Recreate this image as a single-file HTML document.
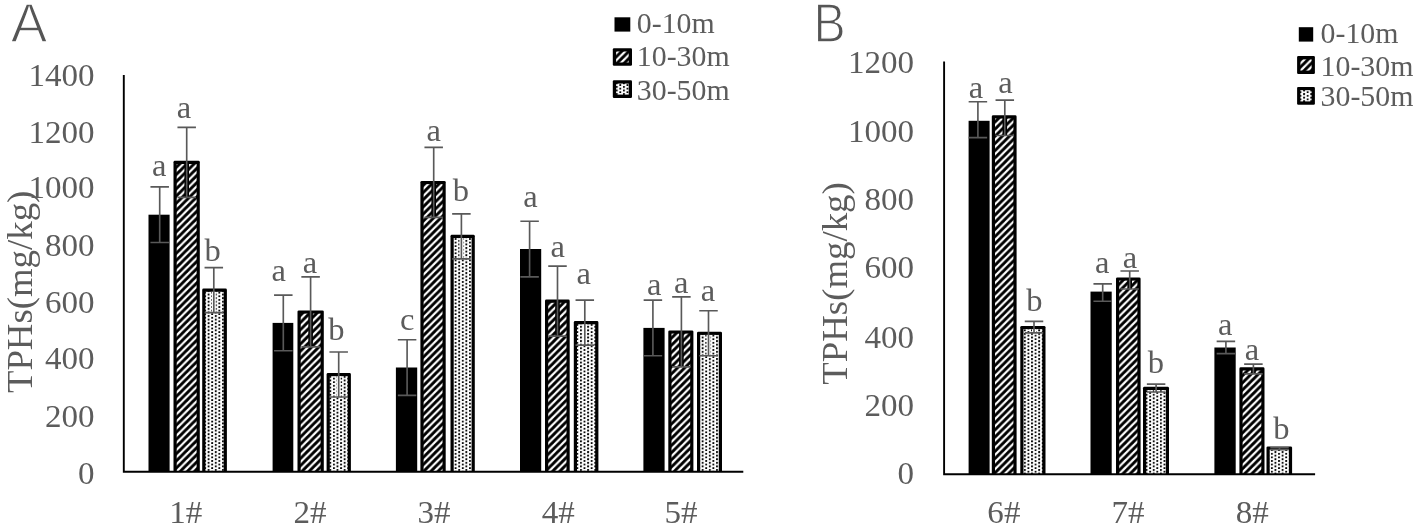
<!DOCTYPE html>
<html lang="en"><head><meta charset="utf-8"><title>TPHs</title>
<style>
html,body{margin:0;padding:0;background:#fff}
body{width:1418px;height:527px;overflow:hidden}
svg{display:block;filter:blur(0.5px)}
.s{font-family:"Liberation Serif","DejaVu Serif",serif}
.n{font-family:"Liberation Sans","DejaVu Sans",sans-serif}
</style></head><body>
<svg width="1418" height="527" viewBox="0 0 1418 527">
<defs>
<pattern id="hat" width="7.160" height="7.160" patternUnits="userSpaceOnUse">
<rect width="7.160" height="7.160" fill="#fff"/>
<path d="M-3.580 3.580L3.580 -3.580M0 7.160L7.160 0M3.580 10.740L10.740 3.580" stroke="#000" stroke-width="2.936"/>
</pattern>
<pattern id="dot" width="7.160" height="3.580" patternUnits="userSpaceOnUse">
<rect width="7.160" height="3.580" fill="#fff"/>
<rect x="0" y="0" width="1.92" height="1.92" rx="0.5" fill="#000"/>
<rect x="3.58" y="1.79" width="1.92" height="1.92" rx="0.5" fill="#000"/>
</pattern>
</defs>
<rect width="1418" height="527" fill="#fff"/>
<rect x="148.50" y="214.70" width="21.10" height="257.10" fill="#000"/>
<path d="M173.50 471.80V162.20Q173.50 160.80 174.90 160.80H198.40Q199.80 160.80 199.80 162.20V471.80Z" fill="#000"/>
<rect x="176.70" y="164.00" width="19.90" height="307.80" fill="url(#hat)"/>
<path d="M202.20 471.80V290.00Q202.20 288.60 203.60 288.60H225.50Q226.90 288.60 226.90 290.00V471.80Z" fill="#000"/>
<rect x="205.40" y="291.80" width="18.30" height="180.00" fill="url(#dot)"/>
<rect x="272.60" y="322.90" width="20.70" height="148.90" fill="#000"/>
<path d="M297.50 471.80V311.80Q297.50 310.40 298.90 310.40H322.40Q323.80 310.40 323.80 311.80V471.80Z" fill="#000"/>
<rect x="300.70" y="313.60" width="19.90" height="158.20" fill="url(#hat)"/>
<path d="M326.60 471.80V374.40Q326.60 373.00 328.00 373.00H349.50Q350.90 373.00 350.90 374.40V471.80Z" fill="#000"/>
<rect x="329.80" y="376.20" width="17.90" height="95.60" fill="url(#dot)"/>
<rect x="395.90" y="367.50" width="21.30" height="104.30" fill="#000"/>
<path d="M420.40 471.80V182.30Q420.40 180.90 421.80 180.90H444.30Q445.70 180.90 445.70 182.30V471.80Z" fill="#000"/>
<rect x="423.60" y="184.10" width="18.90" height="287.70" fill="url(#hat)"/>
<path d="M450.50 471.80V236.20Q450.50 234.80 451.90 234.80H473.40Q474.80 234.80 474.80 236.20V471.80Z" fill="#000"/>
<rect x="453.70" y="238.00" width="17.90" height="233.80" fill="url(#dot)"/>
<rect x="520.00" y="249.00" width="21.20" height="222.80" fill="#000"/>
<path d="M545.00 471.80V301.00Q545.00 299.60 546.40 299.60H568.30Q569.70 299.60 569.70 301.00V471.80Z" fill="#000"/>
<rect x="548.20" y="302.80" width="18.30" height="169.00" fill="url(#hat)"/>
<path d="M573.80 471.80V322.50Q573.80 321.10 575.20 321.10H597.00Q598.40 321.10 598.40 322.50V471.80Z" fill="#000"/>
<rect x="577.00" y="324.30" width="18.20" height="147.50" fill="url(#dot)"/>
<rect x="643.40" y="327.90" width="21.20" height="143.90" fill="#000"/>
<path d="M668.30 471.80V331.80Q668.30 330.40 669.70 330.40H692.00Q693.40 330.40 693.40 331.80V471.80Z" fill="#000"/>
<rect x="671.50" y="333.60" width="18.70" height="138.20" fill="url(#hat)"/>
<path d="M697.00 471.80V333.10Q697.00 331.70 698.40 331.70H720.60Q722.00 331.70 722.00 333.10V471.80Z" fill="#000"/>
<rect x="700.20" y="334.90" width="18.60" height="136.90" fill="url(#dot)"/>
<path d="M123.8 75V472.70M122.9 471.8H743.3" stroke="#000" stroke-width="1.9" fill="none"/>
<path d="M159.70 186.90V242.50M150.45 186.90H168.95M150.45 242.50H168.95" stroke="#595959" stroke-width="1.65" fill="none"/>
<path d="M186.70 162.30V197.30" stroke="#000" stroke-width="4.6" fill="none"/>
<path d="M186.70 127.30V197.30M177.45 127.30H195.95M177.45 197.30H195.95" stroke="#595959" stroke-width="1.65" fill="none"/>
<path d="M213.80 291.80V312.60" stroke="#fff" stroke-width="4.0" fill="none"/>
<path d="M213.80 267.60V312.60M204.55 267.60H223.05M204.55 312.60H223.05" stroke="#595959" stroke-width="1.65" fill="none"/>
<path d="M283.30 295.10V350.70M274.05 295.10H292.55M274.05 350.70H292.55" stroke="#595959" stroke-width="1.65" fill="none"/>
<path d="M310.60 311.90V346.90" stroke="#000" stroke-width="4.6" fill="none"/>
<path d="M310.60 276.90V346.90M301.35 276.90H319.85M301.35 346.90H319.85" stroke="#595959" stroke-width="1.65" fill="none"/>
<path d="M338.70 376.20V397.00" stroke="#fff" stroke-width="4.0" fill="none"/>
<path d="M338.70 352.00V397.00M329.45 352.00H347.95M329.45 397.00H347.95" stroke="#595959" stroke-width="1.65" fill="none"/>
<path d="M407.10 339.70V395.30M397.85 339.70H416.35M397.85 395.30H416.35" stroke="#595959" stroke-width="1.65" fill="none"/>
<path d="M433.70 182.40V217.40" stroke="#000" stroke-width="4.6" fill="none"/>
<path d="M433.70 147.40V217.40M424.45 147.40H442.95M424.45 217.40H442.95" stroke="#595959" stroke-width="1.65" fill="none"/>
<path d="M461.40 238.00V258.80" stroke="#fff" stroke-width="4.0" fill="none"/>
<path d="M461.40 213.80V258.80M452.15 213.80H470.65M452.15 258.80H470.65" stroke="#595959" stroke-width="1.65" fill="none"/>
<path d="M529.60 221.20V276.80M520.35 221.20H538.85M520.35 276.80H538.85" stroke="#595959" stroke-width="1.65" fill="none"/>
<path d="M557.50 301.10V336.10" stroke="#000" stroke-width="4.6" fill="none"/>
<path d="M557.50 266.10V336.10M548.25 266.10H566.75M548.25 336.10H566.75" stroke="#595959" stroke-width="1.65" fill="none"/>
<path d="M584.80 324.30V345.10" stroke="#fff" stroke-width="4.0" fill="none"/>
<path d="M584.80 300.10V345.10M575.55 300.10H594.05M575.55 345.10H594.05" stroke="#595959" stroke-width="1.65" fill="none"/>
<path d="M652.90 300.10V355.70M643.65 300.10H662.15M643.65 355.70H662.15" stroke="#595959" stroke-width="1.65" fill="none"/>
<path d="M681.40 331.90V366.90" stroke="#000" stroke-width="4.6" fill="none"/>
<path d="M681.40 296.90V366.90M672.15 296.90H690.65M672.15 366.90H690.65" stroke="#595959" stroke-width="1.65" fill="none"/>
<path d="M708.50 334.90V355.70" stroke="#fff" stroke-width="4.0" fill="none"/>
<path d="M708.50 310.70V355.70M699.25 310.70H717.75M699.25 355.70H717.75" stroke="#595959" stroke-width="1.65" fill="none"/>
<text class="s" transform="translate(94.50 85.50) scale(1.05 1)" font-size="31.5" text-anchor="end" fill="#5c5c5c">1400</text>
<text class="s" transform="translate(94.50 142.90) scale(1.05 1)" font-size="31.5" text-anchor="end" fill="#5c5c5c">1200</text>
<text class="s" transform="translate(94.50 198.40) scale(1.05 1)" font-size="31.5" text-anchor="end" fill="#5c5c5c">1000</text>
<text class="s" transform="translate(94.50 255.90) scale(1.05 1)" font-size="31.5" text-anchor="end" fill="#5c5c5c">800</text>
<text class="s" transform="translate(94.50 313.30) scale(1.05 1)" font-size="31.5" text-anchor="end" fill="#5c5c5c">600</text>
<text class="s" transform="translate(94.50 368.90) scale(1.05 1)" font-size="31.5" text-anchor="end" fill="#5c5c5c">400</text>
<text class="s" transform="translate(94.50 426.60) scale(1.05 1)" font-size="31.5" text-anchor="end" fill="#5c5c5c">200</text>
<text class="s" transform="translate(94.50 483.80) scale(1.05 1)" font-size="31.5" text-anchor="end" fill="#5c5c5c">0</text>
<text class="s" transform="translate(185.80 522.60) scale(1.05 1)" font-size="31.5" text-anchor="middle" fill="#5c5c5c">1#</text>
<text class="s" transform="translate(310.00 522.60) scale(1.05 1)" font-size="31.5" text-anchor="middle" fill="#5c5c5c">2#</text>
<text class="s" transform="translate(434.00 522.60) scale(1.05 1)" font-size="31.5" text-anchor="middle" fill="#5c5c5c">3#</text>
<text class="s" transform="translate(558.20 522.60) scale(1.05 1)" font-size="31.5" text-anchor="middle" fill="#5c5c5c">4#</text>
<text class="s" transform="translate(681.00 522.60) scale(1.05 1)" font-size="31.5" text-anchor="middle" fill="#5c5c5c">5#</text>
<text class="s" transform="translate(31.6 291.9) rotate(-90)" font-size="36.8" text-anchor="middle" fill="#5c5c5c">TPHs(mg/kg)</text>
<text class="n" transform="translate(10.80 42.00) scale(0.98 1)" font-size="56.0" fill="#555" stroke="#fff" stroke-width="1.4">A</text>
<rect x="614.50" y="17.30" width="15.80" height="14.30" fill="#000"/>
<rect x="612.80" y="48.20" width="19.20" height="17.60" rx="1.2" fill="#000"/>
<rect x="616.10" y="51.50" width="12.60" height="11.00" fill="url(#hat)"/>
<rect x="612.80" y="80.30" width="19.20" height="17.60" rx="1.2" fill="#000"/>
<rect x="616.10" y="83.60" width="12.60" height="11.00" fill="url(#dot)"/>
<text class="s" transform="translate(636.80 33.20) scale(1.012 1)" font-size="29.5" text-anchor="start" fill="#5c5c5c">0-10m</text>
<text class="s" transform="translate(636.80 65.70) scale(1.012 1)" font-size="29.5" text-anchor="start" fill="#5c5c5c">10-30m</text>
<text class="s" transform="translate(636.80 99.60) scale(1.012 1)" font-size="29.5" text-anchor="start" fill="#5c5c5c">30-50m</text>
<text class="s" transform="translate(159.20 176.40) scale(1.05 1)" font-size="31" text-anchor="middle" fill="#5c5c5c">a</text>
<text class="s" transform="translate(184.00 118.10) scale(1.05 1)" font-size="31" text-anchor="middle" fill="#5c5c5c">a</text>
<text class="s" transform="translate(212.70 260.50) scale(1.05 1)" font-size="31" text-anchor="middle" fill="#5c5c5c">b</text>
<text class="s" transform="translate(278.80 281.00) scale(1.05 1)" font-size="31" text-anchor="middle" fill="#5c5c5c">a</text>
<text class="s" transform="translate(310.00 273.00) scale(1.05 1)" font-size="31" text-anchor="middle" fill="#5c5c5c">a</text>
<text class="s" transform="translate(336.30 340.20) scale(1.05 1)" font-size="31" text-anchor="middle" fill="#5c5c5c">b</text>
<text class="s" transform="translate(407.30 329.50) scale(1.05 1)" font-size="31" text-anchor="middle" fill="#5c5c5c">c</text>
<text class="s" transform="translate(433.60 140.60) scale(1.05 1)" font-size="31" text-anchor="middle" fill="#5c5c5c">a</text>
<text class="s" transform="translate(460.80 200.80) scale(1.05 1)" font-size="31" text-anchor="middle" fill="#5c5c5c">b</text>
<text class="s" transform="translate(530.50 207.00) scale(1.05 1)" font-size="31" text-anchor="middle" fill="#5c5c5c">a</text>
<text class="s" transform="translate(557.70 257.10) scale(1.05 1)" font-size="31" text-anchor="middle" fill="#5c5c5c">a</text>
<text class="s" transform="translate(583.80 283.80) scale(1.05 1)" font-size="31" text-anchor="middle" fill="#5c5c5c">a</text>
<text class="s" transform="translate(654.20 295.00) scale(1.05 1)" font-size="31" text-anchor="middle" fill="#5c5c5c">a</text>
<text class="s" transform="translate(681.30 293.20) scale(1.05 1)" font-size="31" text-anchor="middle" fill="#5c5c5c">a</text>
<text class="s" transform="translate(708.00 300.80) scale(1.05 1)" font-size="31" text-anchor="middle" fill="#5c5c5c">a</text>
<rect x="968.60" y="120.80" width="21.00" height="353.40" fill="#000"/>
<path d="M991.80 474.20V116.70Q991.80 115.30 993.20 115.30H1015.20Q1016.60 115.30 1016.60 116.70V474.20Z" fill="#000"/>
<rect x="995.00" y="118.50" width="18.40" height="355.70" fill="url(#hat)"/>
<path d="M1020.30 474.20V327.30Q1020.30 325.90 1021.70 325.90H1044.10Q1045.50 325.90 1045.50 327.30V474.20Z" fill="#000"/>
<rect x="1023.50" y="329.10" width="18.80" height="145.10" fill="url(#dot)"/>
<rect x="1090.50" y="291.60" width="21.20" height="182.60" fill="#000"/>
<path d="M1116.00 474.20V278.80Q1116.00 277.40 1117.40 277.40H1139.20Q1140.60 277.40 1140.60 278.80V474.20Z" fill="#000"/>
<rect x="1119.20" y="280.60" width="18.20" height="193.60" fill="url(#hat)"/>
<path d="M1143.00 474.20V388.20Q1143.00 386.80 1144.40 386.80H1167.60Q1169.00 386.80 1169.00 388.20V474.20Z" fill="#000"/>
<rect x="1146.20" y="390.00" width="19.60" height="84.20" fill="url(#dot)"/>
<rect x="1214.40" y="347.50" width="21.30" height="126.70" fill="#000"/>
<path d="M1239.40 474.20V368.70Q1239.40 367.30 1240.80 367.30H1263.10Q1264.50 367.30 1264.50 368.70V474.20Z" fill="#000"/>
<rect x="1242.60" y="370.50" width="18.70" height="103.70" fill="url(#hat)"/>
<path d="M1266.50 474.20V447.80Q1266.50 446.40 1267.90 446.40H1290.70Q1292.10 446.40 1292.10 447.80V474.20Z" fill="#000"/>
<rect x="1269.70" y="449.60" width="19.20" height="24.60" fill="url(#dot)"/>
<path d="M944.1 61.4V475.10M943.2 474.2H1315.1" stroke="#000" stroke-width="1.9" fill="none"/>
<path d="M977.90 101.70V137.60M968.65 101.70H987.15M968.65 137.60H987.15" stroke="#595959" stroke-width="1.65" fill="none"/>
<path d="M1004.80 117.00V135.50" stroke="#000" stroke-width="4.6" fill="none"/>
<path d="M1004.80 100.10V135.50M995.55 100.10H1014.05M995.55 135.50H1014.05" stroke="#595959" stroke-width="1.65" fill="none"/>
<path d="M1034.00 329.20V332.80" stroke="#fff" stroke-width="4.0" fill="none"/>
<path d="M1034.00 321.30V332.80M1024.75 321.30H1043.25M1024.75 332.80H1043.25" stroke="#595959" stroke-width="1.65" fill="none"/>
<path d="M1102.70 283.80V301.20M1093.45 283.80H1111.95M1093.45 301.20H1111.95" stroke="#595959" stroke-width="1.65" fill="none"/>
<path d="M1129.70 279.00V289.00" stroke="#000" stroke-width="4.6" fill="none"/>
<path d="M1129.70 271.00V289.00M1120.45 271.00H1138.95M1120.45 289.00H1138.95" stroke="#595959" stroke-width="1.65" fill="none"/>
<path d="M1156.10 390.20V392.00" stroke="#fff" stroke-width="4.0" fill="none"/>
<path d="M1156.10 384.10V392.00M1146.85 384.10H1165.35M1146.85 392.00H1165.35" stroke="#595959" stroke-width="1.65" fill="none"/>
<path d="M1225.90 341.30V353.60M1216.65 341.30H1235.15M1216.65 353.60H1235.15" stroke="#595959" stroke-width="1.65" fill="none"/>
<path d="M1253.40 368.60V373.90" stroke="#000" stroke-width="4.6" fill="none"/>
<path d="M1253.40 364.10V373.90M1244.15 364.10H1262.65M1244.15 373.90H1262.65" stroke="#595959" stroke-width="1.65" fill="none"/>
<path d="M1279.50 447.70V449.70M1270.25 447.70H1288.75M1270.25 449.70H1288.75" stroke="#595959" stroke-width="1.65" fill="none"/>
<text class="s" transform="translate(914.00 72.50) scale(1.05 1)" font-size="31.5" text-anchor="end" fill="#5c5c5c">1200</text>
<text class="s" transform="translate(914.00 142.20) scale(1.05 1)" font-size="31.5" text-anchor="end" fill="#5c5c5c">1000</text>
<text class="s" transform="translate(914.00 210.00) scale(1.05 1)" font-size="31.5" text-anchor="end" fill="#5c5c5c">800</text>
<text class="s" transform="translate(914.00 277.60) scale(1.05 1)" font-size="31.5" text-anchor="end" fill="#5c5c5c">600</text>
<text class="s" transform="translate(914.00 347.80) scale(1.05 1)" font-size="31.5" text-anchor="end" fill="#5c5c5c">400</text>
<text class="s" transform="translate(914.00 415.80) scale(1.05 1)" font-size="31.5" text-anchor="end" fill="#5c5c5c">200</text>
<text class="s" transform="translate(914.00 483.80) scale(1.05 1)" font-size="31.5" text-anchor="end" fill="#5c5c5c">0</text>
<text class="s" transform="translate(1003.90 523.00) scale(1.05 1)" font-size="31.5" text-anchor="middle" fill="#5c5c5c">6#</text>
<text class="s" transform="translate(1128.10 523.00) scale(1.05 1)" font-size="31.5" text-anchor="middle" fill="#5c5c5c">7#</text>
<text class="s" transform="translate(1252.30 523.00) scale(1.05 1)" font-size="31.5" text-anchor="middle" fill="#5c5c5c">8#</text>
<text class="s" transform="translate(846.5 283.5) rotate(-90)" font-size="36.8" text-anchor="middle" fill="#5c5c5c">TPHs(mg/kg)</text>
<text class="n" transform="translate(813.60 42.00) scale(0.86 1)" font-size="56.0" fill="#555" stroke="#fff" stroke-width="1.4">B</text>
<rect x="1298.80" y="27.20" width="14.40" height="14.40" fill="#000"/>
<rect x="1297.10" y="56.10" width="17.80" height="17.80" rx="1.2" fill="#000"/>
<rect x="1300.40" y="59.40" width="11.20" height="11.20" fill="url(#hat)"/>
<rect x="1297.10" y="86.90" width="17.80" height="17.80" rx="1.2" fill="#000"/>
<rect x="1300.40" y="90.20" width="11.20" height="11.20" fill="url(#dot)"/>
<text class="s" transform="translate(1320.60 43.30) scale(1.012 1)" font-size="29.5" text-anchor="start" fill="#5c5c5c">0-10m</text>
<text class="s" transform="translate(1320.60 76.10) scale(1.012 1)" font-size="29.5" text-anchor="start" fill="#5c5c5c">10-30m</text>
<text class="s" transform="translate(1320.60 106.30) scale(1.012 1)" font-size="29.5" text-anchor="start" fill="#5c5c5c">30-50m</text>
<text class="s" transform="translate(976.00 97.50) scale(1.05 1)" font-size="31" text-anchor="middle" fill="#5c5c5c">a</text>
<text class="s" transform="translate(1005.50 93.30) scale(1.05 1)" font-size="31" text-anchor="middle" fill="#5c5c5c">a</text>
<text class="s" transform="translate(1034.30 310.80) scale(1.05 1)" font-size="31" text-anchor="middle" fill="#5c5c5c">b</text>
<text class="s" transform="translate(1102.30 273.30) scale(1.05 1)" font-size="31" text-anchor="middle" fill="#5c5c5c">a</text>
<text class="s" transform="translate(1130.00 267.60) scale(1.05 1)" font-size="31" text-anchor="middle" fill="#5c5c5c">a</text>
<text class="s" transform="translate(1155.80 373.30) scale(1.05 1)" font-size="31" text-anchor="middle" fill="#5c5c5c">b</text>
<text class="s" transform="translate(1225.20 335.20) scale(1.05 1)" font-size="31" text-anchor="middle" fill="#5c5c5c">a</text>
<text class="s" transform="translate(1252.00 359.50) scale(1.05 1)" font-size="31" text-anchor="middle" fill="#5c5c5c">a</text>
<text class="s" transform="translate(1281.50 438.70) scale(1.05 1)" font-size="31" text-anchor="middle" fill="#5c5c5c">b</text>
</svg>
</body></html>
